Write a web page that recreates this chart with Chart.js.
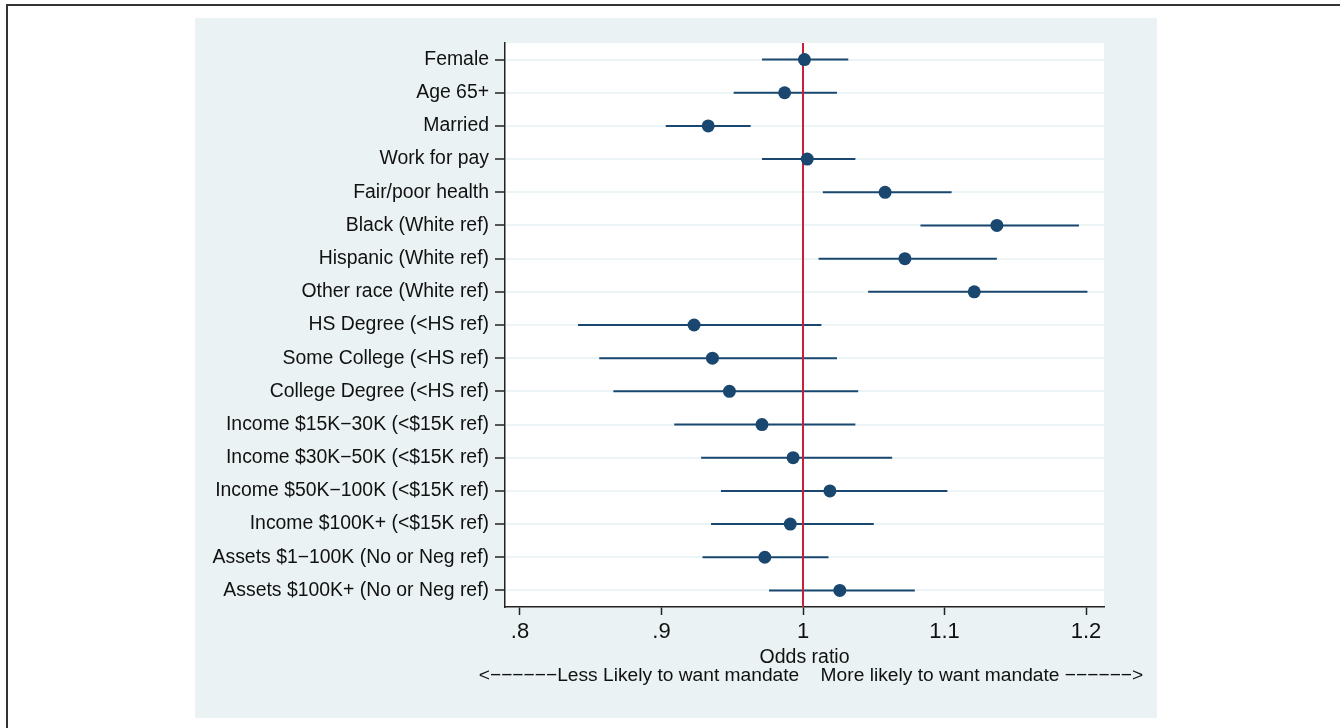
<!DOCTYPE html>
<html>
<head>
<meta charset="utf-8">
<script src="https://cdn.jsdelivr.net/npm/chart.js@4/dist/chart.umd.min.js"></script>
<style>
  html, body { margin: 0; padding: 0; background: #fff; }
  #wrap { width: 1340px; height: 728px; position: relative; }
</style>
</head>
<body>
<div id="wrap"><canvas id="chart"></canvas></div>
<script>
const labels = [
  'Female',
  'Age 65+',
  'Married',
  'Work for pay',
  'Fair/poor health',
  'Black (White ref)',
  'Hispanic (White ref)',
  'Other race (White ref)',
  'HS Degree (<HS ref)',
  'Some College (<HS ref)',
  'College Degree (<HS ref)',
  'Income $15K\u221230K (<$15K ref)',
  'Income $30K\u221250K (<$15K ref)',
  'Income $50K\u2212100K (<$15K ref)',
  'Income $100K+ (<$15K ref)',
  'Assets $1\u2212100K (No or Neg ref)',
  'Assets $100K+ (No or Neg ref)'
]
const oddsRatio = [1.001, 0.987, 0.933, 1.003, 1.058, 1.137, 1.072, 1.121,
  0.923, 0.936, 0.948, 0.971, 0.993, 1.019, 0.991, 0.973, 1.026]
const ciLow = [0.971, 0.951, 0.903, 0.971, 1.014, 1.083, 1.011, 1.046,
  0.841, 0.856, 0.866, 0.909, 0.928, 0.942, 0.935, 0.929, 0.976]
const ciHigh = [1.032, 1.024, 0.963, 1.037, 1.105, 1.195, 1.137, 1.201,
  1.013, 1.024, 1.039, 1.037, 1.063, 1.102, 1.050, 1.018, 1.079]
const xTicks = [0.8, 0.9, 1, 1.1, 1.2]
const xTickLabels = ['.8', '.9', '1', '1.1', '1.2']
const xTitle = 'Odds ratio'
const directionNote = '<\u2212\u2212\u2212\u2212\u2212\u2212Less Likely to want mandate    More likely to want mandate \u2212\u2212\u2212\u2212\u2212\u2212>'

const navy = '#1a476f'
const red = '#c8203a'
const panel = '#eaf2f3'
const font = "'Liberation Sans', Arial, Helvetica, sans-serif"

const datasets = []
// confidence intervals
for (let i = 0; i < labels.length; i++) {
  datasets.push({
    type: 'scatter',
    showLine: true,
    data: [{ x: ciLow[i], y: i + 1 }, { x: ciHigh[i], y: i + 1 }],
    borderColor: navy,
    borderWidth: 2,
    pointRadius: 0,
    order: 2
  })
}
// reference line at 1
datasets.push({
  type: 'scatter',
  showLine: true,
  data: [{ x: 1, y: 0.5 }, { x: 1, y: labels.length + 0.5 }],
  borderColor: red,
  borderWidth: 2,
  pointRadius: 0,
  order: 1
})
// point estimates
datasets.push({
  type: 'scatter',
  data: oddsRatio.map((v, i) => ({ x: v, y: i + 1 })),
  backgroundColor: navy,
  borderWidth: 0,
  pointRadius: 6.5,
  order: 0
})

const backdrop = {
  id: 'backdrop',
  beforeDraw(chart) {
    const { ctx, chartArea } = chart
    ctx.save()
    ctx.fillStyle = '#fff'
    ctx.fillRect(0, 0, chart.width, chart.height)
    ctx.strokeStyle = '#333'
    ctx.lineWidth = 2
    ctx.strokeRect(7, 5, 1400, 800)
    ctx.fillStyle = panel
    ctx.fillRect(195, 18, 962, 700)
    ctx.fillStyle = '#fff'
    ctx.fillRect(chartArea.left, chartArea.top, chartArea.right - chartArea.left, chartArea.bottom - chartArea.top)
    ctx.restore()
  },
  afterDraw(chart) {
    const { ctx } = chart
    ctx.save()
    ctx.font = '19.2px ' + font
    ctx.fillStyle = '#111'
    ctx.textAlign = 'center'
    ctx.textBaseline = 'middle'
    ctx.fillText(directionNote, 811, 676)
    ctx.restore()
  }
}

new Chart(document.getElementById('chart'), {
  type: 'scatter',
  data: { datasets: datasets },
  plugins: [backdrop],
  options: {
    responsive: true,
    maintainAspectRatio: false,
    animation: false,
    layout: { padding: { left: 0, right: 236, top: 43, bottom: 0 } },
    plugins: {
      legend: { display: false },
      tooltip: { enabled: false }
    },
    scales: {
      x: {
        type: 'linear',
        min: 0.7894,
        max: 1.2127,
        afterBuildTicks: (scale) => { scale.ticks = xTicks.map(v => ({ value: v })) },
        afterFit: (scale) => { scale.height = 121 },
        ticks: {
          callback: (v) => xTickLabels[xTicks.indexOf(v)],
          font: { family: font, size: 22 },
          color: '#111',
          padding: 4,
          maxRotation: 0
        },
        grid: {
          drawOnChartArea: false,
          tickColor: '#222',
          tickLength: 8,
          tickWidth: 1.5
        },
        border: { color: '#222', width: 1.5 },
        title: {
          display: true,
          text: xTitle,
          font: { family: font, size: 19.5, lineHeight: 1.0 },
          color: '#111',
          padding: { top: 0, bottom: 61 }
        }
      },
      y: {
        type: 'linear',
        reverse: true,
        min: 0.5,
        max: labels.length + 0.5,
        afterBuildTicks: (scale) => { scale.ticks = labels.map((_, i) => ({ value: i + 1 })) },
        afterFit: (scale) => { scale.width = 505 },
        ticks: {
          callback: (v) => labels[v - 1],
          font: { family: font, size: 19.4 },
          color: '#111',
          padding: 6
        },
        grid: {
          color: '#edf4f5',
          lineWidth: 2,
          tickColor: '#222',
          tickLength: 10,
          tickWidth: 1.5
        },
        border: { color: '#222', width: 1.5 }
      }
    }
  }
})
</script>
</body>
</html>
